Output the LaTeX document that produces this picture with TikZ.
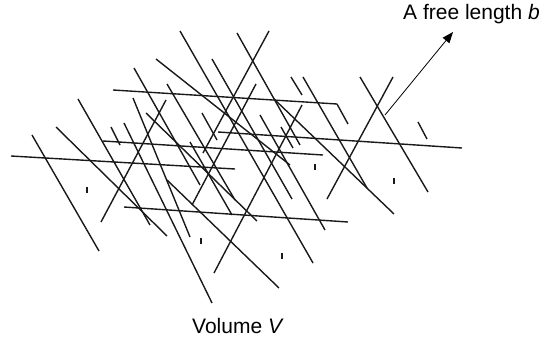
\documentclass[tikz,border=0pt]{standalone}
\usepackage{fontspec}
\setmainfont{Liberation Sans}
\usetikzlibrary{arrows.meta}

\begin{document}
\begin{tikzpicture}[
    x=1pt, y=-1pt,
    fibre/.style={line width=1.4pt, draw=black!90},
    tick/.style={line width=1.4pt, draw=black!90},
    pointer/.style={-{Triangle[length=11pt, width=8.5pt]}, line width=0.8pt},
    caption/.style={font=\fontsize{21}{25}\selectfont, inner sep=0pt, anchor=base west}
]
\useasboundingbox (0,0) rectangle (551,337);

% Fibres (x1/y1/x2/y2)
\foreach \xa/\ya/\xb/\yb in {
    113/90/337/104, 103/141/323/155, 218/132/462/148, 11/156/235/169, 124/207/348/222,
    32/135/99/251, 78/99/150/225, 134/68/200/185, 133/98/190/237, 124/123/212/303,
    180/31/313/263, 237/33/300/145, 212/59/292/199, 260/115/325/230, 167/84/235/200,
    190/142/232/215, 202/113/217/140, 303/77/367/188, 360/77/428/192, 281/127/293/148,
    56/127/167/236, 146/113/257/221, 167/180/279/288, 156/59/290/165, 274/99/394/214,
    269/31/203/153, 256/84/192/205, 166/100/101/222, 393/77/327/199, 302/105/214/273,
    337/104/348/124, 291/77/302/95, 418/122/427/139, 111/127/120/145}
    \draw[fibre] (\xa,\ya) -- (\xb,\yb);

% Fibres seen end-on
\foreach \xa/\ya in {87/187, 201/238, 282/253, 315/164, 394/178}
    \draw[tick] (\xa,\ya) -- ++(0,6);

% Labels
\node[caption] (freelen) at (403,20) {A free length \textit{b}};
\node[caption] (volume) at (192,333) {Volume \textit{V}};

\coordinate (freeend) at (385,115);
\coordinate (tip) at (453,32);
\draw[pointer] (freeend) -- (tip);

\end{tikzpicture}
\end{document}
